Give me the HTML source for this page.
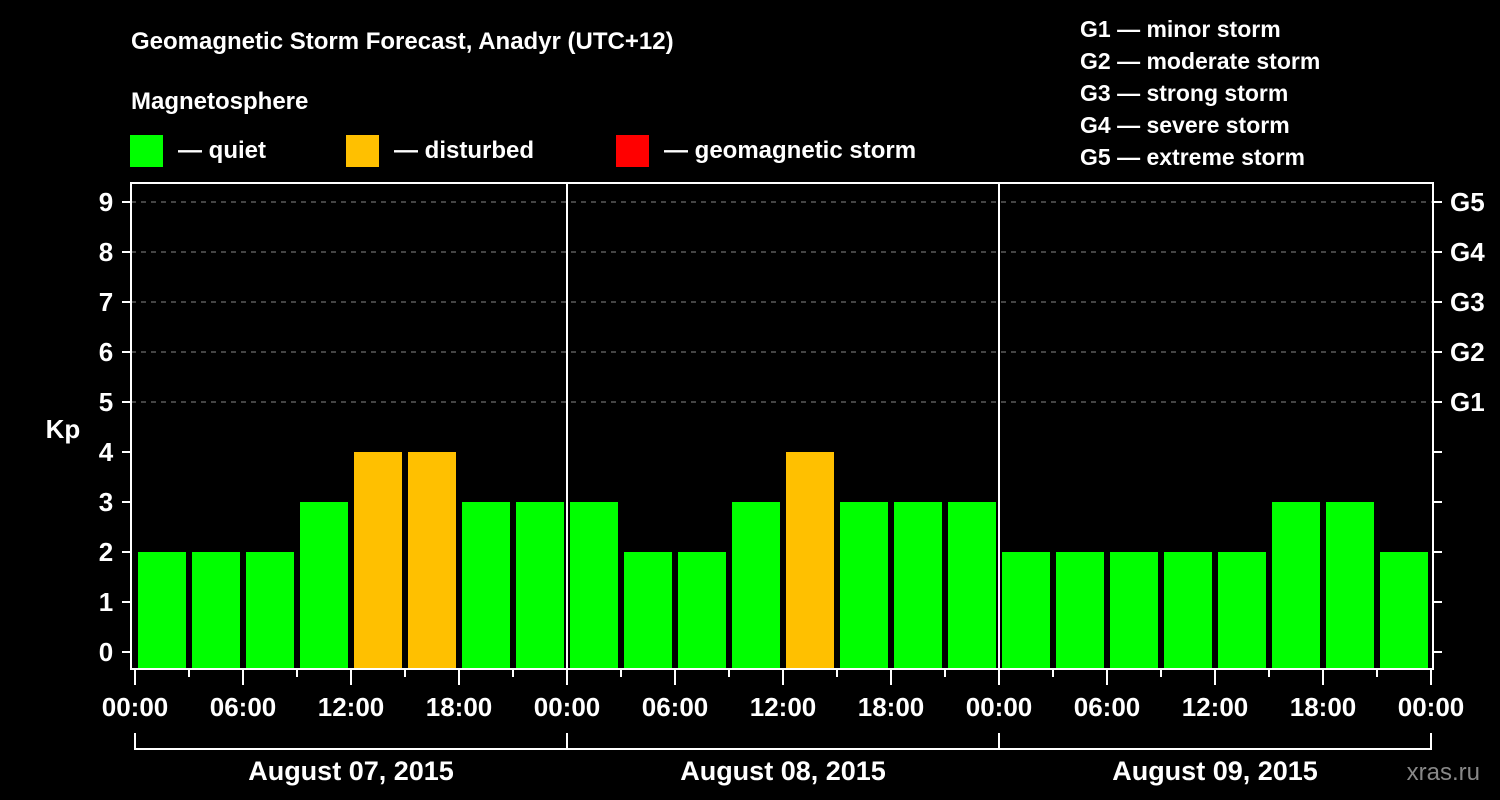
<!DOCTYPE html>
<html><head><meta charset="utf-8"><style>
html,body{margin:0;padding:0;background:#000;}
svg{display:block;font-family:"Liberation Sans",Arial,sans-serif;font-weight:bold;}
</style></head><body>
<svg id="chart" width="1500" height="800" viewBox="0 0 1500 800">
<rect width="1500" height="800" fill="#000"/>
<text x="131" y="49" fill="#fff" font-size="24">Geomagnetic Storm Forecast, Anadyr (UTC+12)</text>
<text x="131" y="109" fill="#fff" font-size="24">Magnetosphere</text>
<rect x="130" y="135" width="33" height="32" fill="#00ff00"/>
<text x="178" y="158" fill="#fff" font-size="24">— quiet</text>
<rect x="346" y="135" width="33" height="32" fill="#ffc000"/>
<text x="394" y="158" fill="#fff" font-size="24">— disturbed</text>
<rect x="616" y="135" width="33" height="32" fill="#ff0000"/>
<text x="664" y="158" fill="#fff" font-size="24">— geomagnetic storm</text>
<g fill="#fff" font-size="23">
<text x="1080" y="37">G1 — minor storm</text>
<text x="1080" y="69">G2 — moderate storm</text>
<text x="1080" y="101">G3 — strong storm</text>
<text x="1080" y="133">G4 — severe storm</text>
<text x="1080" y="165">G5 — extreme storm</text>
</g>
<text x="63" y="438" fill="#fff" font-size="26" text-anchor="middle">Kp</text>
<text x="1480" y="780" fill="#888" font-size="24" text-anchor="end" font-weight="normal">xras.ru</text>
<g id="plot"></g>
</svg>
<script>
const kpValues = [2,2,2,3,4,4,3,3, 3,2,2,3,4,3,3,3, 2,2,2,2,2,3,3,2];
const yTicks = [0,1,2,3,4,5,6,7,8,9];
const gLabels = ["G1","G2","G3","G4","G5"];
const gLevels = [5,6,7,8,9];
const timeLabels = ["00:00","06:00","12:00","18:00","00:00","06:00","12:00","18:00","00:00","06:00","12:00","18:00","00:00"];
const dayLabels = ["August 07, 2015","August 08, 2015","August 09, 2015"];

const NS="http://www.w3.org/2000/svg";
const g=document.getElementById('plot');
const X0=135, X1=1431, nSlots=24;
const slotW=(X1-X0)/nSlots;
const xAt=i=>X0+i*slotW;
const yAt=v=>652-v*50;
const BOT=669;
function mk(t,a){const e=document.createElementNS(NS,t);for(const k in a)e.setAttribute(k,a[k]);g.appendChild(e);return e;}
// grid
yTicks.forEach(v=>{
  if(v>=5){const l=mk('line',{x1:131,x2:1433,y1:yAt(v),y2:yAt(v),stroke:'#888','stroke-dasharray':'5,5','stroke-width':1});
  
  }
});
// bars
kpValues.forEach((v,i)=>{
  const c=v>=5?'#ff0000':(v>=4?'#ffc000':'#00ff00');
  const r=mk('rect',{x:xAt(i)+3,y:yAt(v),width:slotW-6,height:BOT-yAt(v),fill:c});
  
  
});
// day dividers
[1,2].forEach(d=>{
  const l=mk('line',{x1:xAt(d*8),x2:xAt(d*8),y1:182,y2:BOT,stroke:'#fff','stroke-width':2});
  
  
});
// frame
const fr=mk('rect',{x:131,y:183,width:1302,height:486,fill:'none',stroke:'#fff','stroke-width':2});


// y ticks
yTicks.forEach(v=>{
  mk('line',{x1:122,x2:131,y1:yAt(v),y2:yAt(v),stroke:'#fff','stroke-width':2});
  mk('line',{x1:1433,x2:1442,y1:yAt(v),y2:yAt(v),stroke:'#fff','stroke-width':2});
  const t=mk('text',{x:106,y:yAt(v)+9,fill:'#fff','font-size':26,'text-anchor':'middle'});
  t.textContent=v;
  
  
});
gLabels.forEach((s,i)=>{
  const t=mk('text',{x:1450,y:yAt(gLevels[i])+9,fill:'#fff','font-size':26});
  t.textContent=s;
  
  
});
// x ticks
for(let i=0;i<=nSlots;i++){
  const maj=i%2===0;
  mk('line',{x1:xAt(i),x2:xAt(i),y1:BOT,y2:maj?685:677,stroke:'#fff','stroke-width':2});
}
timeLabels.forEach((s,i)=>{
  const t=mk('text',{x:xAt(i*2),y:716,fill:'#fff','font-size':26,'text-anchor':'middle'});
  t.textContent=s;
  
  
});
// day brackets
dayLabels.forEach((s,d)=>{
  const a=xAt(d*8), b=xAt(d*8+8);
  mk('path',{d:`M${a} 733V749H${b}V733`,fill:'none',stroke:'#fff','stroke-width':2});
  const t=mk('text',{x:(a+b)/2,y:780,fill:'#fff','font-size':27,'text-anchor':'middle'});
  t.textContent=s;
  
  
});
</script>
</body></html>
